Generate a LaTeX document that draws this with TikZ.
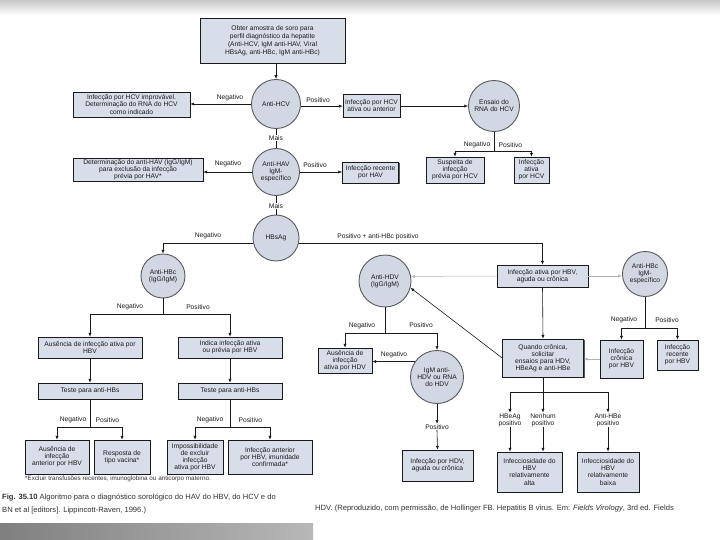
\documentclass[tikz,border=0pt]{standalone}
\usepackage{fontspec}
\setmainfont{Liberation Sans}
\usetikzlibrary{arrows.meta,shadows}
\definecolor{boxfill}{HTML}{D8DEE9}
\definecolor{circfill}{HTML}{D2D8E3}
\definecolor{ink}{HTML}{1A1A1A}
\newcommand{\dgfont}{\fontsize{6.7}{7.1}\selectfont}
\begin{document}
\begin{tikzpicture}[x=1pt,y=-1pt,
  bx/.style={draw=ink, line width=0.65pt, fill=boxfill, align=center, inner sep=0.5pt, font=\dgfont, text=ink,
     drop shadow={shadow xshift=1pt, shadow yshift=-1pt, fill=black!65, opacity=1}},
  cir/.style={circle, draw=black!65, line width=0.9pt, fill=circfill, align=center, inner sep=0pt, font=\dgfont, text=ink},
  lab/.style={font=\dgfont, text=ink, inner sep=0.5pt, align=center},
  ar/.style={draw=ink, line width=0.6pt, -{Latex[length=3.8pt,width=3.2pt]}},
  ln/.style={draw=ink, line width=0.6pt},
  gar/.style={draw=black!30, line width=0.5pt, -{Latex[length=3.8pt,width=3.2pt]}},
  captxt/.style={anchor=west, inner sep=0pt, text=black!80},
]
\useasboundingbox (0,0) rectangle (720,540);
\fill[white] (0,0) rectangle (720,540);
\shade[top color=black!22, bottom color=white] (0,0) rectangle (720,15);
\shade[left color=black!50, right color=black!28] (0,523) rectangle (313,540);

% ---- top part
\node[bx, minimum width=145pt, minimum height=45pt, font=\fontsize{6.7}{8}\selectfont] (top) at (272.5,40.5)
  {Obter amostra de soro para\\ perfil diagnóstico da hepatite\\ (Anti-HCV, IgM anti-HAV, Viral\\ HBsAg, anti-HBc, IgM anti-HBc)};
\node[cir, minimum size=49pt] (hcv) at (276,104) {Anti-HCV};
\node[bx, minimum width=117pt, minimum height=25pt] (n1) at (131.5,104.5) {Infecção por HCV improvável.\\ Determinação do RNA do HCV\\ como indicado};
\node[bx, minimum width=57pt, minimum height=23pt] (p1) at (371.5,106) {Infecção por HCV\\ ativa ou anterior};
\node[cir, minimum size=51pt] (rna) at (494,106) {Ensaio do\\ RNA do HCV};
\node[lab] (mais1) at (276,138) {Mais};
\node[cir, minimum size=47pt] (hav) at (276,172) {Anti-HAV\\ IgM-\\ específico};
\node[bx, minimum width=130pt, minimum height=23pt] (n2) at (138,169.5) {Determinação do anti-HAV (IgG/IgM)\\ para exclusão da infecção\\ prévia por HAV*};
\node[bx, minimum width=56pt, minimum height=21pt] (p2) at (370.5,172.5) {Infecção recente\\ por HAV};
\node[bx, minimum width=58pt, minimum height=26pt] (susp) at (455,170) {Suspeita de\\ infecção\\ prévia por HCV};
\node[bx, minimum width=35pt, minimum height=26pt] (atv) at (531.5,170) {Infecção\\ ativa\\ por HCV};
\node[lab] (mais2) at (276,206) {Mais};
\node[cir, minimum size=46pt] (hbs) at (276,238) {HBsAg};

% ---- middle
\node[cir, minimum size=44pt] (hbc) at (163,276) {Anti-HBc\\ (IgG/IgM)};
\node[cir, minimum size=52pt] (hdv) at (385,281) {Anti-HDV\\ (IgG/IgM)};
\node[bx, minimum width=91pt, minimum height=22pt] (ahbv) at (542.5,276) {Infecção ativa por HBV,\\ aguda ou crônica};
\node[cir, minimum size=45pt] (hbcm) at (645,274) {Anti-HBc\\ IgM-\\ específico};

% ---- left column
\node[bx, minimum width=104pt, minimum height=21pt] (a1) at (90,347.5) {Ausência de infecção ativa por\\ HBV};
\node[bx, minimum width=104pt, minimum height=21pt] (a2) at (230,347.5) {Indica infecção ativa\\ ou prévia por HBV};
\node[bx, minimum width=104pt, minimum height=16pt] (t1) at (90,391) {Teste para anti-HBs};
\node[bx, minimum width=104pt, minimum height=16pt] (t2) at (230,391) {Teste para anti-HBs};
\node[bx, minimum width=64pt, minimum height=34pt] (b1) at (57,457) {Ausência de\\ infecção\\ anterior por HBV};
\node[bx, minimum width=56pt, minimum height=34pt] (b2) at (122,457) {Resposta de\\ tipo vacina*};
\node[bx, minimum width=56pt, minimum height=34pt] (b3) at (195,457) {Impossibilidade\\ de excluir\\ infecção\\ ativa por HBV};
\node[bx, minimum width=84pt, minimum height=34pt] (b4) at (270,457) {Infecção anterior\\ por HBV, imunidade\\ confirmada*};

% ---- HDV column
\node[bx, minimum width=54pt, minimum height=25pt] (d1) at (345,360.5) {Ausência de\\ infecção\\ ativa por HDV};
\node[cir, minimum size=53pt] (igm) at (437,377) {IgM anti-\\ HDV ou RNA\\ do HDV};
\node[lab] (pos3) at (437,427) {Positivo};
\node[bx, minimum width=71pt, minimum height=31pt] (d2) at (437.5,465.5) {Infecção por HDV,\\ aguda ou crônica};

% ---- right column
\node[bx, minimum width=81pt, minimum height=38pt] (q) at (543,358) {Quando crônica,\\ solicitar\\ ensaios para HDV,\\ HBeAg e anti-HBe};
\node[bx, minimum width=43pt, minimum height=38pt] (c1) at (621.5,359) {Infecção\\ crônica\\ por HBV};
\node[bx, minimum width=41pt, minimum height=30pt] (c2) at (677.5,355) {Infecção\\ recente\\ por HBV};
\node[lab] (heb) at (510,420) {HBeAg\\ positivo};
\node[lab] (nen) at (543,420) {Nenhum\\ positivo};
\node[lab] (ahbe) at (608,420) {Anti-HBe\\ positivo};
\node[bx, minimum width=65pt, minimum height=40pt] (e1) at (529.5,472) {Infecciosidade do\\ HBV\\ relativamente\\ alta};
\node[bx, minimum width=62pt, minimum height=40pt] (e2) at (608,472) {Infecciosidade do\\ HBV\\ relativamente\\ baixa};

% ---- junctions
\coordinate (j2) at (494,151); \coordinate (j2a) at (455,151); \coordinate (j2b) at (531.5,151);
\coordinate (j3) at (163,314); \coordinate (j3a) at (90,314); \coordinate (j3b) at (230,314);
\coordinate (j4) at (90,427); \coordinate (j4a) at (57,427); \coordinate (j4b) at (122,427);
\coordinate (j8) at (230,427); \coordinate (j8a) at (195,427); \coordinate (j8b) at (270,427);
\coordinate (j5) at (645,328); \coordinate (j5a) at (621.5,328); \coordinate (j5b) at (677.5,328);
\coordinate (j6) at (543,392); \coordinate (j6a) at (510,392); \coordinate (j6c) at (608,392);
\coordinate (j7) at (385,333); \coordinate (j7a) at (345,333); \coordinate (j7b) at (437,333);

% ---- connectors, top
\draw[ar] (top.south -| hcv.north) -- (hcv.north);
\draw[ar] (hcv.west) -- (hcv.west -| n1.east);
\node[lab] (l1) at (230,98) {Negativo};
\draw[ar] (hcv.-5) -- (hcv.-5 -| p1.west);
\node[lab] (l2) at (318,100) {Positivo};
\draw[ar] (p1.east) -- (rna.west);
\draw[ln] (hcv.south) -- (mais1.north);
\draw[ln] (mais1.south) -- (hav.north);
\draw[ar] (hav.west) -- (hav.west -| n2.east);
\node[lab] (l3) at (228,164) {Negativo};
\draw[ar] (hav.east) -- (hav.east -| p2.west);
\node[lab] (l4) at (315,165) {Positivo};
\draw[ln] (rna.south) -- (j2);
\draw[ln] (j2a) -- (j2b);
\draw[ar] (j2a) -- (susp.north);
\draw[ar] (j2b) -- (atv.north);
\node[lab, anchor=east] (l5) at (491,145) {Negativo};
\node[lab, anchor=west] (l6) at (498,145) {Positivo};
\draw[ln] (hav.south) -- (mais2.north);
\draw[ln] (mais2.south) -- (hbs.north);

% ---- HBsAg
\draw[ar] (hbs.192) -| (hbc.north);
\node[lab] (l7) at (208,236) {Negativo};
\draw[ar] (hbs.-12) -| (ahbv.north);
\node[lab] (l8) at (378,237) {Positivo + anti-HBc positivo};

% ---- anti-HBc
\draw[ln] (hbc.south) -- (j3);
\draw[ln] (j3a) -- (j3b);
\draw[ar] (j3a) -- (a1.north);
\draw[ar] (j3b) -- (a2.north);
\node[lab] (l9) at (130,307) {Negativo};
\node[lab] (l10) at (198,307) {Positivo};
\draw[ar] (a1.south) -- (t1.north);
\draw[ar] (a2.south) -- (t2.north);
\draw[ln] (t1.south) -- (j4);
\draw[ln] (j4a) -- (j4b);
\draw[ar] (j4a) -- (b1.north);
\draw[ar] (j4b) -- (b2.north);
\node[lab, anchor=east] (l11) at (87,420) {Negativo};
\node[lab, anchor=west] (l12) at (95,420) {Positivo};
\draw[ln] (t2.south) -- (j8);
\draw[ln] (j8a) -- (j8b);
\draw[ar] (j8a) -- (b3.north);
\draw[ar] (j8b) -- (b4.north);
\node[lab, anchor=east] (l13) at (224,420) {Negativo};
\node[lab, anchor=west] (l14) at (238,420) {Positivo};

% ---- HDV
\draw[ln] (hdv.south) -- (j7);
\draw[ln] (j7a) -- (j7b);
\draw[ar] (j7a) -- (d1.north);
\draw[ar] (j7b) -- (igm.north);
\node[lab] (l15) at (362,326) {Negativo};
\node[lab] (l16) at (421,325) {Positivo};
\draw[ar] (igm.145) -- (igm.145 -| d1.east);
\node[lab] (l17) at (394,355) {Negativo};
\draw[ar] (igm.south) -- (pos3.north);
\draw[ar] (pos3.south) -- (d2.north);

% ---- right
\draw[gar] (ahbv.west) -- (hdv.10);
\draw[gar] (ahbv.east) -- (ahbv.east -| hbcm.west);
\draw[ar] (ahbv.south) -- (q.north);
\draw[ar] (q.west) -- (hdv.-15);
\draw[ln] (hbcm.south) -- (j5);
\draw[ln] (j5a) -- (j5b);
\draw[ar] (j5a) -- (c1.north);
\draw[ar] (j5b) -- (c2.north);
\node[lab] (l18) at (624,320) {Negativo};
\node[lab] (l19) at (667,320) {Positivo};
\draw[gar] (c1.west) -- (c1.west -| q.east);
\draw[ln] (q.south) -- (j6);
\draw[ln] (j6a) -- (j6c);
\draw[ar] (j6a) -- (heb.north);
\draw[ar] (j6) -- (nen.north);
\draw[ar] (j6c) -- (ahbe.north);
\draw[ar] (heb.south) -- (heb.south |- e1.north);
\draw[ar] (nen.south) -- (nen.south |- e1.north);
\draw[ar] (ahbe.south) -- (e2.north);

% ---- footnote and caption
\node[captxt, font=\fontsize{6.3}{7.5}\selectfont] (fn) at (25,479) {*Excluir transfusões recentes, imunoglobina ou anticorpo materno.};
\node[captxt, font=\fontsize{7.6}{9}\selectfont] (cap1) at (2,498) {\textbf{Fig. 35.10} Algoritmo para o diagnóstico sorológico do HAV do HBV, do HCV e do};
\node[captxt, font=\fontsize{7.6}{9}\selectfont] (cap2) at (2,511) {BN et al [editors]. Lippincott-Raven, 1996.)};
\node[captxt, font=\fontsize{7.6}{9}\selectfont] (cap3) at (315,509) {HDV. (Reproduzido, com permissão, de Hollinger FB. Hepatitis B virus. Em: \textit{Fields Virology}, 3rd ed. Fields};
\end{tikzpicture}
\end{document}
